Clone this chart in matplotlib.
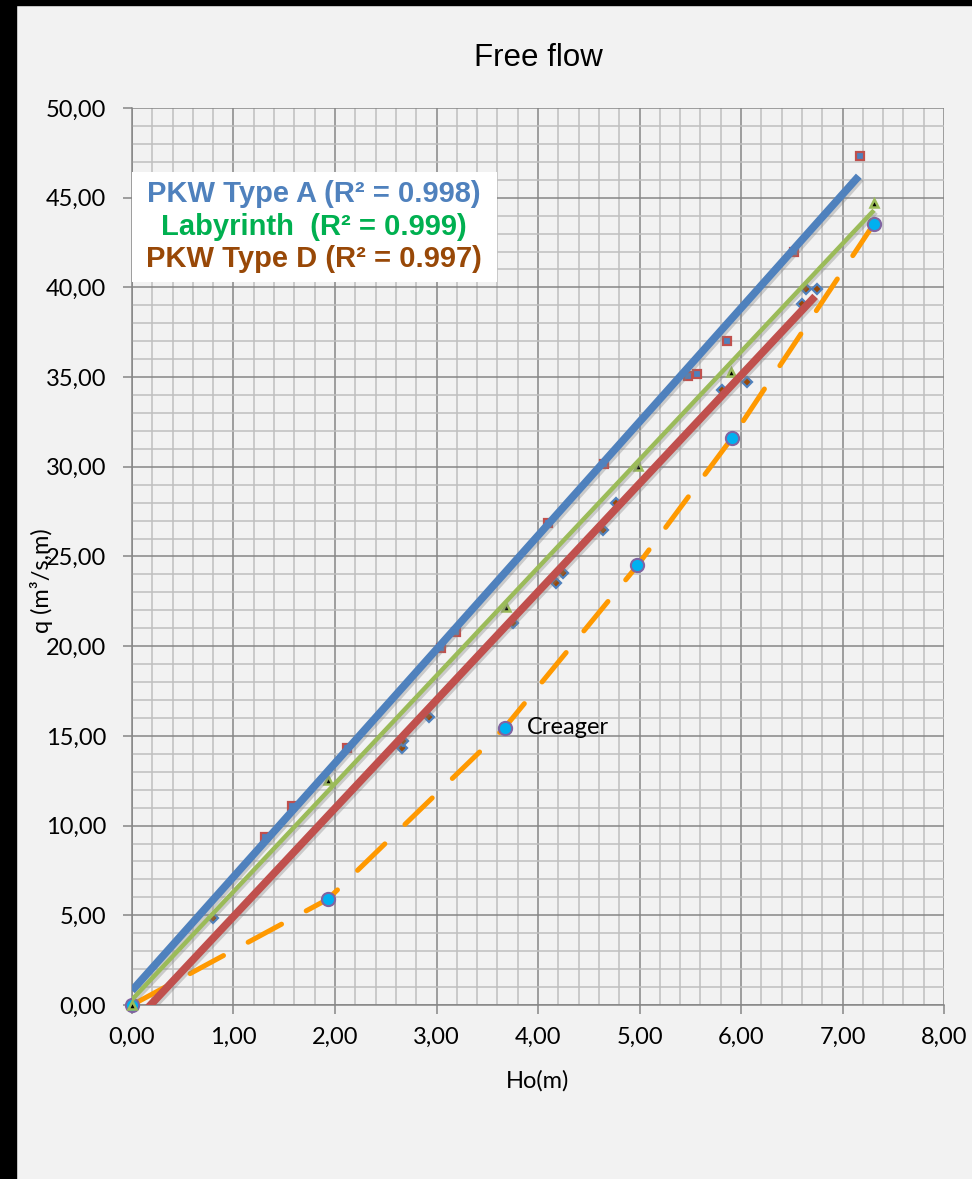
import matplotlib.pyplot as plt
import matplotlib.patheffects as pe
from matplotlib.patches import Rectangle
from matplotlib.ticker import MultipleLocator

# PKW Type A measurements (squares)
pkw_a_h = [0.0, 1.31, 1.58, 2.12, 3.04, 3.19, 4.10, 4.65, 5.48, 5.57, 5.86, 6.52, 7.17]
pkw_a_q = [0.0, 9.37, 11.1, 14.35, 19.9, 20.8, 26.88, 30.15, 35.06, 35.2, 37.0, 42.0, 47.3]

# PKW Type D measurements (diamonds)
pkw_d_h = [0.0, 0.80, 2.66, 2.67, 2.93, 3.75, 4.18, 4.25, 4.64, 4.77, 5.81, 6.06, 6.60, 6.64, 6.75]
pkw_d_q = [0.0, 4.85, 14.3, 14.7, 16.05, 21.3, 23.5, 24.1, 26.5, 28.0, 34.3, 34.7, 39.1, 39.9, 39.9]

# Labyrinth measurements (triangles)
lab_h = [0.0, 1.93, 3.68, 4.99, 5.90, 7.31]
lab_q = [0.0, 12.55, 22.2, 30.05, 35.3, 44.7]

# Creager weir
creager_h = [0.0, 1.93, 3.67, 4.98, 5.91, 7.31]
creager_q = [0.0, 5.9, 15.45, 24.5, 31.6, 43.55]

# linear trendlines (end values)
trend_a_h = [0.0, 7.16]
trend_a_q = [0.8, 46.2]
trend_lab_h = [0.0, 7.31]
trend_lab_q = [0.3, 44.3]
trend_d_h = [0.0, 6.73]
trend_d_q = [-1.1, 39.5]

x_ticks = [0, 1, 2, 3, 4, 5, 6, 7, 8]
x_tick_labels = ['0,00', '1,00', '2,00', '3,00', '4,00', '5,00', '6,00', '7,00', '8,00']
y_ticks = [0, 5, 10, 15, 20, 25, 30, 35, 40, 45, 50]
y_tick_labels = ['0,00', '5,00', '10,00', '15,00', '20,00', '25,00',
                 '30,00', '35,00', '40,00', '45,00', '50,00']

legend_lines = ['PKW Type A (R\u00b2 = 0.998)', 'Labyrinth  (R\u00b2 = 0.999)',
                'PKW Type D (R\u00b2 = 0.997)']
legend_colors = ['#4F81BD', '#00B050', '#984807']

bg = '#F2F2F2'
fig = plt.figure(figsize=(9.72, 11.79), dpi=100, facecolor=bg)
ax = fig.add_axes([0.1358, 0.1476, 0.8354, 0.7608], facecolor=bg)

# black edges of the screenshot
fig.add_artist(Rectangle((0, 0), 0.0165, 1, transform=fig.transFigure,
                         color='black', zorder=10))
fig.add_artist(Rectangle((0, 0.9958), 1, 0.0042, transform=fig.transFigure,
                         color='black', zorder=10))

# data points
ax.plot(creager_h, creager_q, color='#FF9900', lw=3.6, dashes=(7.6, 5.6),
        dash_capstyle='round', zorder=2)
ax.plot(pkw_a_h, pkw_a_q, ls='none', marker='s', ms=6, mfc='#4F81BD',
        mec='#C0504D', mew=1.6, zorder=3, clip_on=False)
ax.plot(pkw_d_h, pkw_d_q, ls='none', marker='D', ms=5.5, mfc='#984807',
        mec='#4F81BD', mew=1.6, zorder=3, clip_on=False)
ax.plot(creager_h, creager_q, ls='none', marker='o', ms=9.5, mfc='#00B0F0',
        mec='#8064A2', mew=1.5, zorder=3, clip_on=False)
ax.plot(lab_h, lab_q, ls='none', marker='^', ms=6, mfc='black',
        mec='#9BBB59', mew=1.8, zorder=3, clip_on=False)

# trendlines
shadow = [pe.SimpleLineShadow(offset=(1.5, -1.5), shadow_color='gray', alpha=0.35),
          pe.Normal()]
ax.plot(trend_a_h, trend_a_q, color='#4F81BD', lw=5.5, solid_capstyle='butt',
        zorder=4, path_effects=shadow)
ax.plot(trend_d_h, trend_d_q, color='#C0504D', lw=5.5, solid_capstyle='butt',
        zorder=4, path_effects=shadow)
ax.plot(trend_lab_h, trend_lab_q, color='#9BBB59', lw=3.2, solid_capstyle='butt',
        zorder=4, path_effects=shadow)

ax.annotate('Creager', xy=(creager_h[2], creager_q[2]), xytext=(16, 0),
            textcoords='offset points', va='center', ha='left',
            fontsize=17, family='Lato', zorder=6)

# legend box with R2 values
ax.add_patch(Rectangle((0.0, 0.806), 0.4495, 0.1227, transform=ax.transAxes,
                       facecolor='white', edgecolor='none', zorder=5))
for i, (txt, col) in enumerate(zip(legend_lines, legend_colors)):
    ax.text(0.224, 0.904 - i * 0.0362, txt, transform=ax.transAxes,
            ha='center', va='center', color=col, fontsize=21,
            fontweight='bold', family='Liberation Sans', zorder=6)

ax.set_xlim(0, 8)
ax.set_ylim(0, 50)
ax.set_xticks(x_ticks)
ax.set_xticklabels(x_tick_labels, family='Lato')
ax.set_yticks(y_ticks)
ax.set_yticklabels(y_tick_labels, family='Lato')
ax.xaxis.set_minor_locator(MultipleLocator(0.2))
ax.yaxis.set_minor_locator(MultipleLocator(1))

ax.set_axisbelow(True)
ax.grid(which='minor', color='#BFBFBF', lw=1.1)
ax.grid(which='major', color='#868686', lw=1.1)
ax.tick_params(which='minor', length=0)
ax.tick_params(which='major', length=6.5, width=1.1, color='#868686',
               labelsize=17)
ax.tick_params(axis='x', pad=9)
ax.tick_params(axis='y', pad=12)
for side in ['top', 'right']:
    ax.spines[side].set_visible(False)
for side in ['left', 'bottom']:
    ax.spines[side].set_color('#868686')
    ax.spines[side].set_linewidth(1.1)

ax.set_title('Free flow', fontsize=22.5, family='Liberation Sans', pad=30)
ax.set_xlabel('Ho(m)', fontsize=17, family='Lato', labelpad=16)
ax.set_ylabel('q (m\u00b3/s,m)', fontsize=17, family='Lato')
ax.yaxis.set_label_coords(-0.097, 0.473)

fig.savefig('out.png', dpi=100, facecolor=bg)
